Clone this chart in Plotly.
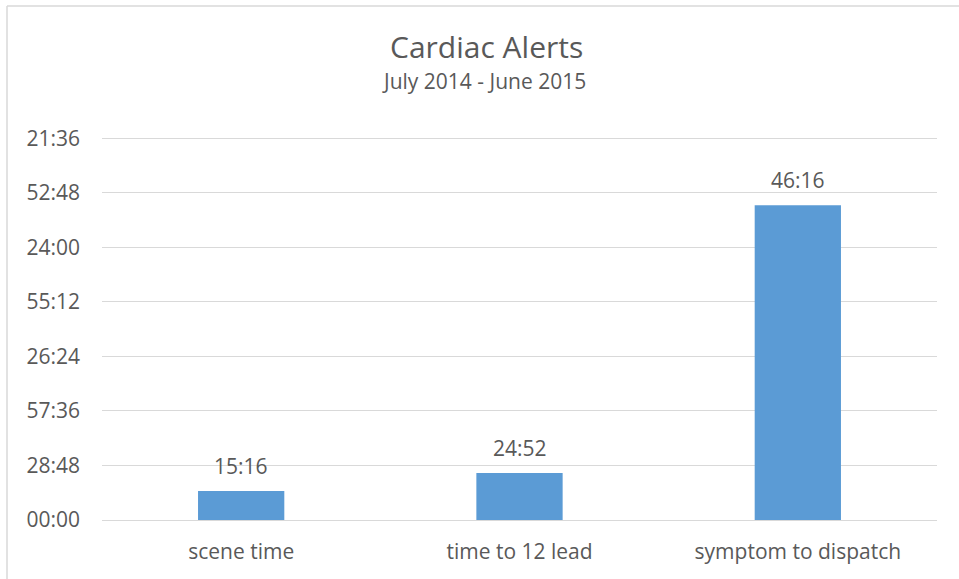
import plotly.graph_objects as go

# ---- data ----
categories = ["scene time", "time to 12 lead", "symptom to dispatch"]
durations_hms = ["0:15:16", "0:24:52", "2:46:16"]   # h:mm:ss
value_labels = ["15:16", "24:52", "46:16"]          # Excel-style mm:ss display
tick_days = [0.0, 0.02, 0.04, 0.06, 0.08, 0.10, 0.12, 0.14]
tick_labels = ["00:00", "28:48", "57:36", "26:24", "55:12", "24:00", "52:48", "21:36"]


def to_days(hms):
    h, m, s = (int(p) for p in hms.split(":"))
    return (h * 3600 + m * 60 + s) / 86400.0


values = [to_days(d) for d in durations_hms]

W, H = 959, 579
ML, MR, MT, MB = 102, 22, 137, 59
PW, PH = W - ML - MR, H - MT - MB

FONT = "Open Sans"
TXT = "#595959"
GRID = "#D9D9D9"
BAR = "#5B9BD5"

fig = go.Figure()
fig.add_trace(go.Bar(
    x=categories, y=values,
    marker=dict(color=BAR, line=dict(width=0)),
    width=0.31,
    hoverinfo="skip",
))

for c, v, lab in zip(categories, values, value_labels):
    fig.add_annotation(x=c, y=v, text=lab, showarrow=False,
                       yanchor="bottom", yshift=9,
                       font=dict(family=FONT, size=21, color=TXT))


def px_x(p):
    return (p - ML) / PW


def px_y(p):
    return (H - MB - p) / PH


# chart frame (left and top edges visible)
fig.add_shape(type="line", xref="paper", yref="paper",
              x0=px_x(7), x1=px_x(975), y0=px_y(6), y1=px_y(6),
              line=dict(color=GRID, width=1.5))
fig.add_shape(type="line", xref="paper", yref="paper",
              x0=px_x(7), x1=px_x(7), y0=px_y(6), y1=px_y(600),
              line=dict(color=GRID, width=1.5))

fig.add_annotation(xref="paper", yref="paper", x=px_x(486), y=px_y(46),
                   text="Cardiac Alerts", showarrow=False,
                   xanchor="center", yanchor="middle",
                   font=dict(family=FONT, size=30, color=TXT))
fig.add_annotation(xref="paper", yref="paper", x=px_x(484), y=px_y(81),
                   text="July 2014 - June 2015", showarrow=False,
                   xanchor="center", yanchor="middle",
                   font=dict(family=FONT, size=21, color=TXT))

fig.update_layout(
    width=W, height=H,
    margin=dict(l=ML, r=MR, t=MT, b=MB, pad=0),
    paper_bgcolor="white", plot_bgcolor="white",
    showlegend=False,
    bargap=0.69,
    font=dict(family=FONT, color=TXT),
)
fig.update_xaxes(
    showgrid=False, showline=True, linecolor=GRID, linewidth=1,
    ticks="", tickfont=dict(family=FONT, size=21, color=TXT),
    ticklabelstandoff=13,
)
fig.update_yaxes(
    range=[0, 0.1405], tickmode="array", tickvals=tick_days, ticktext=tick_labels,
    showgrid=True, gridcolor=GRID, gridwidth=1, zeroline=False,
    showline=False, ticks="",
    tickfont=dict(family=FONT, size=21, color=TXT),
    ticklabelstandoff=21,
)

# remove the default 8px page margin so the figure sits at the window's corner
fig.write_html("out.html",
               config={"displayModeBar": False},
               post_script="document.body.style.margin='0';document.body.style.overflow='hidden';")
